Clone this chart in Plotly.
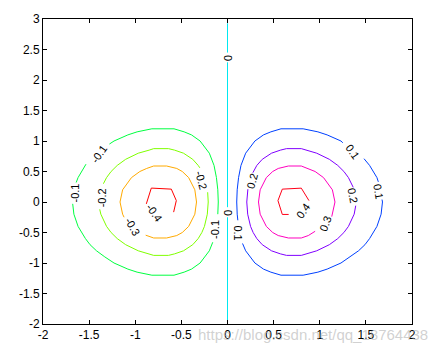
import plotly.graph_objects as go

# ---- contour lines (None = gap for an inline label) ----
n = None
pos01_x = [0.112, 0.105, 0.10, 0.105, 0.12, 0.146, 0.197, 0.297, 0.39, 0.47, 0.58, 0.82, 0.98, 1.08, 1.23, 1.25, n,
           1.48, 1.54, 1.62, 1.635, n,
           1.675, 1.68, 1.665, 1.62, 1.54, 1.49, 1.42, 1.33, 1.23, 1.08, 0.98, 0.82, 0.58, 0.47, 0.39, 0.297, 0.197, 0.163]
pos01_y = [-0.30, -0.2, 0.0, 0.2, 0.4, 0.6, 0.8, 1.0, 1.1, 1.15, 1.2, 1.2, 1.15, 1.1, 1.0, 0.97, n,
           0.71, 0.6, 0.4, 0.33, n,
           0.04, 0.0, -0.2, -0.4, -0.6, -0.7, -0.8, -0.9, -1.0, -1.1, -1.15, -1.2, -1.2, -1.15, -1.1, -1.0, -0.8, -0.68]

pos02_x = [0.275, 0.318, 0.377, 0.477, 0.573, 0.64, 0.80, 0.85, 0.967, 1.104, 1.195, 1.262, 1.311, 1.363, n,
           1.39, 1.373, 1.311, 1.262, 1.195, 1.104, 0.967, 0.85, 0.80, 0.64, 0.573, 0.477, 0.377, 0.318, 0.278, 0.25, 0.219, 0.209, 0.221]
pos02_y = [0.48, 0.6, 0.7, 0.8, 0.85, 0.875, 0.875, 0.85, 0.8, 0.7, 0.6, 0.5, 0.4, 0.24, n,
           -0.06, -0.2, -0.4, -0.5, -0.6, -0.7, -0.8, -0.85, -0.875, -0.875, -0.85, -0.8, -0.7, -0.6, -0.5, -0.4, -0.2, 0.0, 0.21]

pos03_x = [0.95, 0.876, 0.80, 0.66, 0.55, 0.49, 0.421, 0.354, 0.336, 0.354, 0.421, 0.49, 0.55, 0.66, 0.80, 0.876, 0.95,
           1.041, 1.137, 1.165, 1.13]
pos03_y = [-0.48, -0.55, -0.59, -0.59, -0.55, -0.5, -0.4, -0.2, 0.0, 0.2, 0.4, 0.5, 0.55, 0.59, 0.59, 0.55, 0.5,
           0.4, 0.2, 0.0, -0.24]

pos04_x = [0.883, 0.80, 0.594, 0.547, 0.594, 0.663]
pos04_y = [0.023, 0.227, 0.211, 0.023, -0.204, -0.204]

neg01_x = [-0.105, -0.10, -0.105, -0.12, -0.146, -0.197, -0.297, -0.39, -0.47, -0.58, -0.82, -0.98, -1.08, -1.23, -1.28, n,
           -1.534, -1.62, -1.64, n,
           -1.678, -1.665, -1.62, -1.54, -1.49, -1.42, -1.33, -1.23, -1.08, -0.98, -0.82, -0.58, -0.47, -0.39, -0.297, -0.197, -0.16]
neg01_y = [-0.2, 0.0, 0.2, 0.4, 0.6, 0.8, 1.0, 1.1, 1.15, 1.2, 1.2, 1.15, 1.1, 1.0, 0.95, n,
           0.62, 0.4, 0.32, n,
           -0.03, -0.2, -0.4, -0.6, -0.7, -0.8, -0.9, -1.0, -1.1, -1.15, -1.2, -1.2, -1.15, -1.1, -1.0, -0.8, -0.66]

neg02_x = [-0.215, -0.209, -0.219, -0.25, -0.278, -0.318, -0.377, -0.477, -0.573, -0.64, -0.80, -0.85, -0.967, -1.104,
           -1.195, -1.262, -1.311, -1.373, -1.385, n,
           -1.345, -1.311, -1.262, -1.195, -1.104, -0.967, -0.85, -0.80, -0.64, -0.573, -0.477, -0.377, -0.318, -0.30]
neg02_y = [0.16, 0.0, -0.2, -0.4, -0.5, -0.6, -0.7, -0.8, -0.85, -0.875, -0.875, -0.85, -0.8, -0.7,
           -0.6, -0.5, -0.4, -0.2, -0.12, n,
           0.30, 0.4, 0.5, 0.6, 0.7, 0.8, 0.85, 0.875, 0.875, 0.85, 0.8, 0.7, 0.6, 0.56]

neg03_x = [-0.887, -0.80, -0.66, -0.55, -0.49, -0.421, -0.354, -0.336, -0.354, -0.421, -0.49, -0.55, -0.66, -0.80,
           -0.876, -0.95, -1.041, -1.137, -1.165, -1.137, -1.121]
neg03_y = [-0.544, -0.59, -0.59, -0.55, -0.5, -0.4, -0.2, 0.0, 0.2, 0.4, 0.5, 0.55, 0.59, 0.59,
           0.55, 0.5, 0.4, 0.2, 0.0, -0.2, -0.25]

neg04_x = [-0.88, -0.826, -0.609, -0.555, -0.584]
neg04_y = [-0.031, 0.228, 0.211, 0.023, -0.166]

zero_x = [0, 0, n, 0, 0, n, 0, 0]
zero_y = [-2, -0.25, n, -0.085, 2.29, n, 2.45, 2.93]

line_sets = [
    (neg04_x, neg04_y, "#ff0000"),
    (neg03_x, neg03_y, "#ffaa00"),
    (neg02_x, neg02_y, "#80ff00"),
    (neg01_x, neg01_y, "#00ff40"),
    (zero_x, zero_y, "#00e8f0"),
    (pos01_x, pos01_y, "#0040ff"),
    (pos02_x, pos02_y, "#8000ff"),
    (pos03_x, pos03_y, "#ff00bf"),
    (pos04_x, pos04_y, "#ff0018"),
]

# ---- inline contour labels ----
label_text = ["0.1", "0.1", "0.1", "0.2", "0.2", "0.3", "0.4", "0", "0",
              "-0.1", "-0.1", "-0.1", "-0.2", "-0.2", "-0.3", "-0.4"]
label_x = [1.35, 1.64, 0.115, 0.265, 1.36, 1.06, 0.815, 0.0, 0.0,
           -1.657, -1.39, -0.13, -0.285, -1.357, -1.035, -0.79]
label_y = [0.83, 0.17, -0.50, 0.35, 0.10, -0.36, -0.14, 2.37, -0.166,
           0.15, 0.78, -0.45, 0.36, 0.065, -0.40, -0.175]
label_angle = [55, 80, 90, -75, 80, -70, -55, 90, 90,
               -90, -55, -90, 75, -90, 60, 55]

# ---- axes ----
x_ticks = [-2, -1.5, -1, -0.5, 0, 0.5, 1, 1.5, 2]
x_ticktext = ["-2", "-1.5", "-1", "-0.5", "0", "0.5", "1", "1.5", "2"]
y_ticks = [-2, -1.5, -1, -0.5, 0, 0.5, 1, 1.5, 2, 2.5, 3]
y_ticktext = ["-2", "-1.5", "-1", "-0.5", "0", "0.5", "1", "1.5", "2", "2.5", "3"]

fig = go.Figure()
for xs, ys, col in line_sets:
    fig.add_trace(go.Scatter(x=xs, y=ys, mode="lines", line=dict(color=col, width=1),
                             hoverinfo="skip", showlegend=False))

for t, x, y, a in zip(label_text, label_x, label_y, label_angle):
    fig.add_annotation(x=x, y=y, text=t, textangle=a, showarrow=False,
                       font=dict(family="Liberation Sans, Arial", size=11, color="black"),
                       xanchor="center", yanchor="middle")

# faint watermark seen at the bottom of the picture
fig.add_annotation(xref="paper", yref="paper", x=1.05, y=-0.035, xanchor="right", yanchor="middle",
                   text="https://blog.csdn.net/qq_18764438", showarrow=False,
                   font=dict(family="Liberation Sans, Arial", size=15, color="rgba(170,170,170,0.55)"))

axis_common = dict(showline=True, linecolor="black", linewidth=1, mirror="ticks",
                   ticks="inside", ticklen=4, tickcolor="black", showgrid=False, zeroline=False,
                   tickfont=dict(family="Liberation Sans, Arial", size=12, color="black"))

fig.update_layout(
    width=439, height=354,
    margin=dict(l=43, r=27, t=16, b=29),
    paper_bgcolor="white", plot_bgcolor="white",
    xaxis=dict(range=[-2, 2], tickvals=x_ticks, ticktext=x_ticktext, **axis_common),
    yaxis=dict(range=[-2, 3], tickvals=y_ticks, ticktext=y_ticktext, **axis_common),
)

fig.write_html("out.html")
